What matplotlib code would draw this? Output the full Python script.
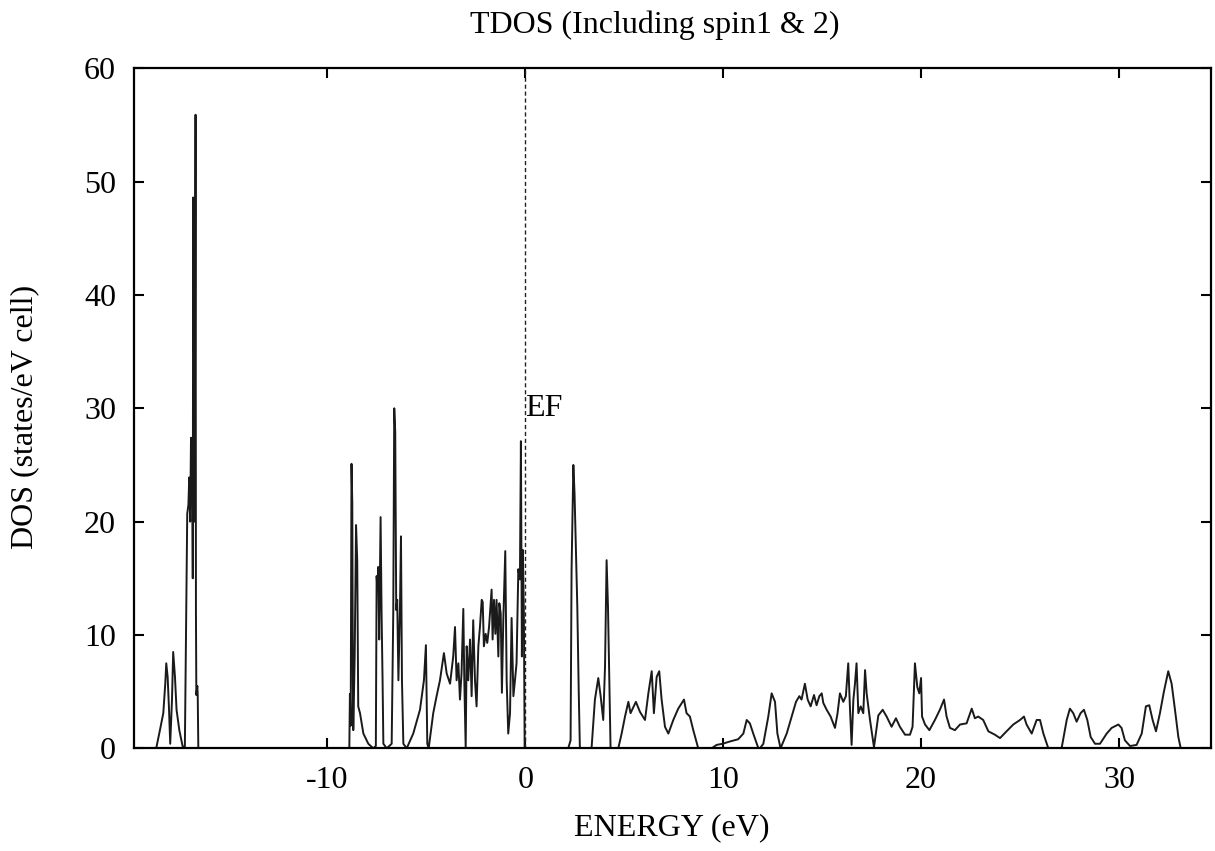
import numpy as np
import matplotlib
matplotlib.use("Agg")
import matplotlib.pyplot as plt

# total DOS, split into the three bands (energy in eV)
e_core = [-19.77, -18.66, -18.63, -18.46, -18.29, -18.19, -18.14, -18.07, -18.00, -17.94,
          -17.85, -17.79, -17.70, -17.62, -17.48, -17.31, -17.20, -17.15, -17.08, -17.02,
          -16.98, -16.93, -16.89, -16.85, -16.83, -16.80, -16.78, -16.75, -16.73, -16.70,
          -16.66, -16.64, -16.62, -16.57, -16.55, -16.52]
dos_core = [0.0, 0.0, 0.15, 1.6, 3.1, 5.7, 7.5, 6.3, 3.4, 0.4,
            4.3, 8.5, 6.3, 3.4, 1.6, 0.15, 0.15, 8.5, 20.7, 21.5,
            23.9, 20.0, 27.4, 24.0, 26.5, 15.0, 48.6, 35.0, 47.4, 20.0,
            55.9, 12.0, 4.7, 5.5, 4.7, 0.0]

e_val = [-8.92, -8.89, -8.86, -8.82, -8.78, -8.74, -8.71, -8.69, -8.62, -8.55,
         -8.49, -8.44, -8.35, -8.18, -7.93, -7.68, -7.55, -7.51, -7.47, -7.43,
         -7.38, -7.31, -7.26, -7.21, -7.17, -7.00, -6.75, -6.67, -6.62, -6.57,
         -6.52, -6.47, -6.41, -6.33, -6.28, -6.23, -6.16, -5.99, -5.66, -5.32,
         -5.12, -5.02, -4.95, -4.88, -4.65, -4.48, -4.31, -4.11, -3.97, -3.80,
         -3.64, -3.55, -3.47, -3.38, -3.30, -3.22, -3.13, -3.08, -3.01, -2.96,
         -2.88, -2.79, -2.71, -2.63, -2.54, -2.46, -2.37, -2.29, -2.20, -2.15,
         -2.09, -2.00, -1.92, -1.83, -1.70, -1.65, -1.58, -1.51, -1.45, -1.36,
         -1.31, -1.24, -1.18, -1.11, -1.01, -0.94, -0.86, -0.77, -0.69, -0.60,
         -0.52, -0.44, -0.35, -0.27, -0.22, -0.17, -0.12, -0.07, -0.03]
dos_val = [0.0, 0.0, 4.8, 2.0, 25.1, 21.6, 6.0, 1.6, 8.0, 19.7,
           16.5, 3.7, 3.1, 1.3, 0.4, 0.0, 0.2, 15.2, 14.0, 16.0,
           9.6, 20.4, 11.9, 6.0, 0.4, 0.0, 0.4, 11.9, 30.0, 27.9,
           12.2, 13.1, 6.0, 12.5, 18.7, 6.0, 0.4, 0.0, 1.3, 3.4,
           6.0, 9.1, 0.4, 0.0, 3.1, 4.6, 6.0, 8.4, 6.6, 5.7,
           8.1, 10.7, 6.0, 7.5, 4.3, 6.6, 12.3, 6.0, 0.0, 9.0,
           6.0, 9.6, 4.6, 11.3, 6.0, 3.7, 9.0, 10.7, 13.1, 12.9,
           9.0, 10.1, 9.3, 10.7, 14.0, 9.6, 13.1, 10.1, 13.1, 8.1,
           12.8, 11.9, 4.9, 11.3, 17.4, 6.0, 1.3, 3.1, 11.5, 4.6,
           6.0, 7.5, 15.8, 14.9, 27.1, 8.1, 17.5, 11.9, 0.0]

e_cond = [0.00, 2.17, 2.29, 2.34, 2.43, 2.49, 2.56, 2.63, 2.70, 2.76,
          3.35, 3.52, 3.69, 3.81, 3.94, 4.03, 4.11, 4.18, 4.23, 4.31,
          4.70, 4.87, 5.04, 5.21, 5.32, 5.59, 5.80, 6.05, 6.22, 6.39,
          6.50, 6.64, 6.77, 6.89, 7.06, 7.23, 7.48, 7.73, 8.02, 8.15,
          8.32, 8.49, 8.74, 9.42, 9.67, 9.97, 10.34, 10.76, 11.02, 11.19,
          11.35, 11.52, 11.78, 11.86, 12.03, 12.28, 12.45, 12.62, 12.74, 12.90,
          13.21, 13.46, 13.68, 13.85, 13.96, 14.13, 14.27, 14.42, 14.59, 14.72,
          14.86, 14.98, 15.06, 15.23, 15.43, 15.65, 15.78, 15.90, 16.07, 16.20,
          16.32, 16.41, 16.49, 16.58, 16.66, 16.74, 16.83, 16.95, 17.08, 17.17,
          17.25, 17.42, 17.62, 17.84, 18.06, 18.26, 18.51, 18.73, 18.93, 19.19,
          19.44, 19.57, 19.69, 19.81, 19.91, 20.00, 20.05, 20.20, 20.42, 20.70,
          20.95, 21.16, 21.29, 21.46, 21.71, 21.97, 22.30, 22.56, 22.72, 22.89,
          23.14, 23.40, 23.73, 23.99, 24.32, 24.66, 25.00, 25.20, 25.33, 25.59,
          25.84, 26.01, 26.18, 26.43, 27.10, 27.36, 27.52, 27.69, 27.86, 28.06,
          28.23, 28.40, 28.57, 28.79, 29.04, 29.38, 29.63, 29.97, 30.13, 30.30,
          30.56, 30.89, 31.15, 31.36, 31.53, 31.70, 31.87, 32.07, 32.27, 32.49,
          32.66, 32.83, 33.00, 33.12, 34.65]
dos_cond = [0.0, 0.0, 0.7, 15.7, 25.0, 22.5, 17.5, 12.5, 5.2, 0.0,
            0.0, 4.3, 6.2, 4.6, 2.5, 7.2, 16.6, 12.5, 7.5, 0.0,
            0.0, 1.3, 2.8, 4.1, 3.1, 4.1, 3.2, 2.5, 4.85, 6.8,
            3.1, 6.3, 6.8, 4.3, 1.9, 1.3, 2.5, 3.5, 4.3, 3.1,
            2.8, 1.6, 0.0, 0.0, 0.3, 0.4, 0.6, 0.8, 1.3, 2.5,
            2.2, 1.3, 0.0, 0.0, 0.4, 2.8, 4.85, 4.1, 1.3, 0.0,
            1.3, 2.8, 4.1, 4.6, 4.3, 5.7, 4.3, 3.7, 4.7, 3.8,
            4.6, 4.85, 4.0, 3.4, 2.8, 1.8, 3.1, 4.85, 4.1, 4.6,
            7.5, 3.4, 0.3, 4.3, 5.7, 7.5, 3.1, 3.7, 3.1, 6.9,
            4.85, 2.5, 0.1, 2.9, 3.4, 2.8, 1.9, 2.65, 1.9, 1.2,
            1.2, 1.9, 7.5, 5.4, 4.85, 6.2, 2.8, 2.1, 1.6, 2.5,
            3.4, 4.3, 2.8, 1.8, 1.6, 2.1, 2.2, 3.5, 2.65, 2.8,
            2.5, 1.5, 1.2, 0.9, 1.5, 2.1, 2.5, 2.8, 2.1, 1.3,
            2.5, 2.5, 1.3, 0.0, 0.0, 2.5, 3.5, 3.1, 2.35, 3.1,
            3.4, 2.5, 1.0, 0.4, 0.4, 1.3, 1.8, 2.1, 1.8, 0.7,
            0.2, 0.3, 1.3, 3.7, 3.8, 2.5, 1.5, 3.1, 5.0, 6.8,
            5.7, 3.4, 1.0, 0.0, 0.0]

E_FERMI = 0.0
xticks = [-10, 0, 10, 20, 30]
yticks = [0, 10, 20, 30, 40, 50, 60]

plt.rcParams["font.family"] = ["Liberation Serif", "DejaVu Serif"]
plt.rcParams["axes.unicode_minus"] = False  # gnuplot-style hyphen minus

W, H = 1215, 851
FS = 23
fig = plt.figure(figsize=(W / 100, H / 100), dpi=100)
ax = fig.add_axes([134 / W, 1 - 748.3 / H, (1211 - 134) / W, (748.3 - 68.3) / H])

energy = np.concatenate([e_core, e_val, e_cond])
dos = np.concatenate([dos_core, dos_val, dos_cond])
ax.plot(energy, dos, color="#1a1a1a", lw=1.4)
ax.plot([E_FERMI, E_FERMI], [0, 60], color="#222222", lw=1.0, ls=(0, (3, 2)))
ax.text(E_FERMI, 30, "EF", fontsize=FS, ha="left", va="center")

ax.set_xlim(-19.77, 34.65); ax.set_ylim(0, 60)
ax.set_xticks(xticks); ax.set_yticks(yticks)
ax.tick_params(direction="in", length=7, width=1.5, top=True, right=True,
               labelsize=FS, pad=13)
for s in ax.spines.values():
    s.set_linewidth(1.6)

fig.text(655 / W, 1 - 25 / H, "TDOS (Including spin1 & 2)", fontsize=FS, ha="center", va="center")
fig.text(672 / W, 1 - 828 / H, "ENERGY (eV)", fontsize=FS, ha="center", va="center")
fig.text(25 / W, 1 - 417 / H, "DOS (states/eV cell)", fontsize=FS, ha="center", va="center",
         rotation=90)

fig.savefig("out.png", dpi=100)
